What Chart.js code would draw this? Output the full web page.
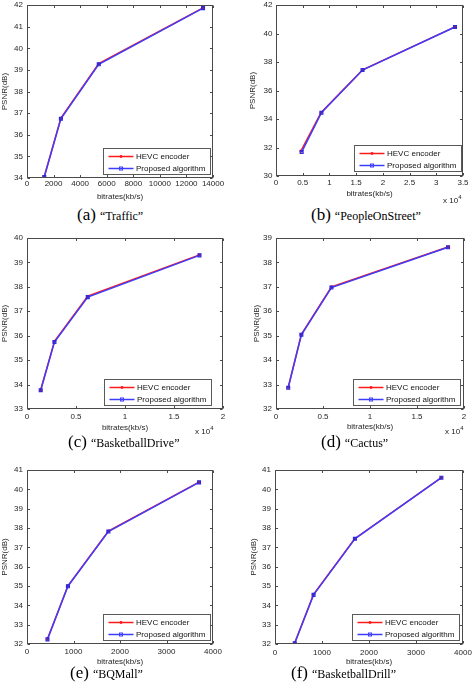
<!DOCTYPE html>
<html>
<head>
<meta charset="utf-8">
<script src="https://cdn.jsdelivr.net/npm/chart.js@4.4.1/dist/chart.umd.min.js"></script>
<style>
  html, body { margin: 0; padding: 0; background: #fff; }
  body { width: 472px; height: 686px; position: relative; overflow: hidden; font-family: 'Liberation Sans', Arial, sans-serif; }
  canvas { position: absolute; }
  .cap { position: absolute; font-family: 'Liberation Serif', 'Times New Roman', serif; white-space: nowrap; color: #000; line-height: 20px; }
  .cap .l { font-size: 17px; }
  .cap .n { font-size: 12px; }
  .exp { position: absolute; font-size: 8px; color: #222; line-height: 10px; white-space: nowrap; }
  .exp sup { font-size: 6px; vertical-align: 4px; line-height: 0; }
</style>
</head>
<body>
<script>
// ---------------- data ----------------
const seriesNames = ['HEVC encoder', 'Proposed algorithm'];
const xAxisTitle = 'bitrates(kb/s)';
const yAxisTitle = 'PSNR(dB)';
const captionLetters = ['(a)', '(b)', '(c)', '(d)', '(e)', '(f)'];
const captionNames = ['\u201cTraffic\u201d', '\u201cPeopleOnStreet\u201d', '\u201cBasketballDrive\u201d', '\u201cCactus\u201d', '\u201cBQMall\u201d', '\u201cBasketballDrill\u201d'];

// (a) Traffic
const trafficRate = [1300, 2550, 5400, 13250];
const trafficHevc = [34.07, 36.77, 39.29, 41.87];
const trafficProp = [34.05, 36.74, 39.26, 41.86];
const trafficXTicks = [0, 2000, 4000, 6000, 8000, 10000, 12000, 14000];
const trafficYTicks = [34, 35, 36, 37, 38, 39, 40, 41, 42];

// (b) PeopleOnStreet
const peopleRateHevc = [4650, 8450, 16200, 33500];
const peopleRate = [4800, 8500, 16200, 33500];
const peopleHevc = [31.75, 34.46, 37.45, 40.47];
const peopleProp = [31.68, 34.44, 37.44, 40.46];
const peopleXTicks = [0, 5000, 10000, 15000, 20000, 25000, 30000, 35000];
const peopleYTicks = [30, 32, 34, 36, 38, 40, 42];

// (c) BasketballDrive
const driveRate = [1400, 2800, 6200, 17600];
const driveHevc = [33.79, 35.77, 37.62, 39.31];
const driveProp = [33.77, 35.74, 37.58, 39.29];
const driveXTicks = [0, 5000, 10000, 15000, 20000];
const driveYTicks = [33, 34, 35, 36, 37, 38, 39, 40];

// (d) Cactus
const cactusRate = [1300, 2700, 5900, 18300];
const cactusHevc = [32.89, 35.06, 37.0, 38.63];
const cactusProp = [32.87, 35.04, 36.97, 38.62];
const cactusXTicks = [0, 5000, 10000, 15000, 20000];
const cactusYTicks = [32, 33, 34, 35, 36, 37, 38, 39];

// (e) BQMall
const mallRate = [440, 880, 1750, 3700];
const mallHevc = [32.26, 35.01, 37.84, 40.37];
const mallProp = [32.24, 34.99, 37.82, 40.36];
const mallXTicks = [0, 1000, 2000, 3000, 4000];
const mallYTicks = [32, 33, 34, 35, 36, 37, 38, 39, 40, 41];

// (f) BasketballDrill
const drillRate = [420, 820, 1700, 3540];
const drillHevc = [32.06, 34.57, 37.46, 40.61];
const drillProp = [32.04, 34.54, 37.44, 40.6];
const drillXTicks = [0, 1000, 2000, 3000, 4000];
const drillYTicks = [32, 33, 34, 35, 36, 37, 38, 39, 40, 41];

// ---------------- panels ----------------
const panels = [
  { rateH: trafficRate, rateP: trafficRate, hevc: trafficHevc, prop: trafficProp, xTicks: trafficXTicks, yTicks: trafficYTicks, xDiv: 1 },
  { rateH: peopleRateHevc, rateP: peopleRate, hevc: peopleHevc, prop: peopleProp, xTicks: peopleXTicks, yTicks: peopleYTicks, xDiv: 10000 },
  { rateH: driveRate, rateP: driveRate, hevc: driveHevc, prop: driveProp, xTicks: driveXTicks, yTicks: driveYTicks, xDiv: 10000 },
  { rateH: cactusRate, rateP: cactusRate, hevc: cactusHevc, prop: cactusProp, xTicks: cactusXTicks, yTicks: cactusYTicks, xDiv: 10000 },
  { rateH: mallRate, rateP: mallRate, hevc: mallHevc, prop: mallProp, xTicks: mallXTicks, yTicks: mallYTicks, xDiv: 1 },
  { rateH: drillRate, rateP: drillRate, hevc: drillHevc, prop: drillProp, xTicks: drillXTicks, yTicks: drillYTicks, xDiv: 1 }
];

// layout (page pixels)
const layouts = [
  { left: 0,   top: 0,   width: 236, bottom: 202, area: [27, 5, 213, 178],   yTitleX: 4.8,   xTickPad: 1,   yTickPad: 4,   lg: [3, 4],  cap: [77, 215],  exp: null },
  { left: 236, top: 0,   width: 236, bottom: 199, area: [276, 5, 463, 176],  yTitleX: 253,   xTickPad: 2,   yTickPad: 3.5, lg: [2, 5],  cap: [311, 215], exp: [443, 201] },
  { left: 0,   top: 225, width: 236, bottom: 433, area: [27, 238, 223, 409], yTitleX: 5,     xTickPad: 3,   yTickPad: 4,   lg: [12, 4], cap: [68, 442],  exp: [195, 432] },
  { left: 236, top: 225, width: 236, bottom: 432, area: [276, 238, 464, 409], yTitleX: 256.5, xTickPad: 3,  yTickPad: 4,   lg: [4, 4],  cap: [321, 442], exp: [445, 432] },
  { left: 0,   top: 455, width: 236, bottom: 667, area: [27, 470, 213, 644], yTitleX: 5,     xTickPad: 3,   yTickPad: 4,   lg: [3, 4],  cap: [70, 673],  exp: null },
  { left: 236, top: 455, width: 236, bottom: 667, area: [275, 470, 463, 644], yTitleX: 254,  xTickPad: 3.5, yTickPad: 4,   lg: [4, 4],  cap: [291, 673], exp: null }
];

const RED = '#ff1a1a';
const BLUE = '#3d3dff';
const TEXT = '#262626';
const AXIS = '#4a4a4a';
const FONT = { family: "'Liberation Sans', Arial, sans-serif", size: 8 };

function fmt(v) {
  return String(Math.round(v * 1000) / 1000);
}

const framePlugin = {
  id: 'frame',
  afterDraw(chart, args, opts) {
    const { ctx, chartArea: a, scales } = chart;
    const x = scales.x, y = scales.y;
    const L = Math.round(a.left) + 0.5, R = Math.round(a.right) - 0.5;
    const T = Math.round(a.top) + 0.5, B = Math.round(a.bottom) - 0.5;
    ctx.save();
    ctx.strokeStyle = AXIS;
    ctx.lineWidth = 1;
    ctx.strokeRect(L, T, R - L, B - T);
    const tl = 2.5;
    ctx.beginPath();
    x.ticks.forEach(t => {
      const px = Math.round(x.getPixelForValue(t.value)) + 0.5;
      ctx.moveTo(px, B); ctx.lineTo(px, B - tl);
      ctx.moveTo(px, T); ctx.lineTo(px, T + tl);
    });
    y.ticks.forEach(t => {
      const py = Math.round(y.getPixelForValue(t.value)) + 0.5;
      ctx.moveTo(L, py); ctx.lineTo(L + tl, py);
      ctx.moveTo(R, py); ctx.lineTo(R - tl, py);
    });
    ctx.stroke();

    // legend box inside the plot (bottom right)
    const w = 107, h = 26;
    const bx = Math.round(a.right - opts.rGap - w) + 0.5;
    const by = Math.round(a.bottom - opts.bGap - h) + 0.5;
    ctx.fillStyle = '#fff';
    ctx.fillRect(bx, by, w, h);
    ctx.strokeStyle = '#5a5a5a';
    ctx.strokeRect(bx, by, w, h);
    const rows = [by + 7.5, by + 19];
    chart.data.datasets.forEach((ds, i) => {
      const ry = Math.round(rows[i]) + 0.5;
      ctx.strokeStyle = ds.borderColor;
      ctx.lineWidth = 1.5;
      ctx.beginPath();
      ctx.moveTo(bx + 5, ry); ctx.lineTo(bx + 30, ry);
      ctx.stroke();
      const mx = bx + 17.5;
      if (ds.pointStyle === 'rect') {
        ctx.lineWidth = 1;
        ctx.strokeRect(mx - 1.5, ry - 1.5, 3, 3);
      } else {
        ctx.fillStyle = ds.borderColor;
        ctx.beginPath(); ctx.arc(mx, ry, 1.4, 0, Math.PI * 2); ctx.fill();
      }
      ctx.fillStyle = '#111';
      ctx.font = "8px 'Liberation Sans', Arial, sans-serif";
      ctx.textBaseline = 'middle';
      ctx.textAlign = 'left';
      ctx.fillText(ds.label, bx + 32.5, ry + 0.5);
    });
    ctx.restore();
  }
};

panels.forEach((p, idx) => {
  const Lo = layouts[idx];
  const [aL, aT, aR, aB] = Lo.area;
  const height = Lo.bottom - Lo.top;
  const padL = Math.max(0, Lo.yTitleX - 4.8 - Lo.left);
  const yW = aL - Lo.left - padL;
  const padT = aT - Lo.top;
  const padR = Lo.left + Lo.width - aR;
  const xH = Lo.bottom - aB;

  const cv = document.createElement('canvas');
  cv.width = Lo.width; cv.height = height;
  cv.style.left = Lo.left + 'px'; cv.style.top = Lo.top + 'px';
  cv.style.width = Lo.width + 'px'; cv.style.height = height + 'px';
  document.body.appendChild(cv);

  new Chart(cv, {
    type: 'line',
    data: {
      datasets: [
        {
          label: seriesNames[0],
          data: p.rateH.map((v, i) => ({ x: v, y: p.hevc[i] })),
          borderColor: RED, backgroundColor: RED, borderWidth: 1.5,
          pointStyle: 'circle', pointRadius: 1.5, pointBorderWidth: 0,
          pointBackgroundColor: RED, tension: 0, order: 2
        },
        {
          label: seriesNames[1],
          data: p.rateP.map((v, i) => ({ x: v, y: p.prop[i] })),
          borderColor: BLUE, backgroundColor: 'rgba(0,0,0,0)', borderWidth: 1.5,
          pointStyle: 'rect', pointRadius: 2.1, pointBorderWidth: 1.1,
          pointBorderColor: '#2a2ae0', pointBackgroundColor: 'rgba(90,0,120,0.35)', tension: 0, order: 1
        }
      ]
    },
    options: {
      responsive: false, animation: false, devicePixelRatio: 1,
      layout: { padding: { left: padL, top: padT, right: padR, bottom: 0 } },
      plugins: { legend: { display: false }, tooltip: { enabled: false }, frame: { rGap: Lo.lg[0], bGap: Lo.lg[1] } },
      scales: {
        x: {
          type: 'linear',
          min: p.xTicks[0], max: p.xTicks[p.xTicks.length - 1],
          afterBuildTicks: s => { s.ticks = p.xTicks.map(v => ({ value: v })); },
          afterFit: s => { s.height = xH; s.paddingLeft = 0; s.paddingRight = 0; },
          grid: { display: false, drawTicks: false },
          border: { display: false },
          ticks: { padding: Lo.xTickPad, font: FONT, color: TEXT, maxRotation: 0, autoSkip: false, callback: v => fmt(v / p.xDiv) },
          title: { display: true, text: xAxisTitle, font: FONT, color: TEXT, padding: { top: 0, bottom: 0 } }
        },
        y: {
          type: 'linear',
          min: p.yTicks[0], max: p.yTicks[p.yTicks.length - 1],
          afterBuildTicks: s => { s.ticks = p.yTicks.map(v => ({ value: v })); },
          afterFit: s => { s.width = yW; s.paddingTop = 0; s.paddingBottom = 0; },
          grid: { display: false, drawTicks: false },
          border: { display: false },
          ticks: { padding: Lo.yTickPad, font: FONT, color: TEXT, autoSkip: false, callback: v => fmt(v) },
          title: { display: true, text: yAxisTitle, font: FONT, color: TEXT, padding: { top: 0, bottom: 0 } }
        }
      }
    },
    plugins: [framePlugin]
  });

  const cap = document.createElement('div');
  cap.className = 'cap';
  cap.style.left = Lo.cap[0] + 'px';
  cap.style.top = (Lo.cap[1] - 10) + 'px';
  cap.innerHTML = '<span class="l">' + captionLetters[idx] + '</span> <span class="n">' + captionNames[idx] + '</span>';
  document.body.appendChild(cap);

  if (Lo.exp) {
    const ex = document.createElement('div');
    ex.className = 'exp';
    ex.style.left = Lo.exp[0] + 'px';
    ex.style.top = (Lo.exp[1] - 5) + 'px';
    ex.innerHTML = 'x 10<sup>4</sup>';
    document.body.appendChild(ex);
  }
});
</script>
</body>
</html>
